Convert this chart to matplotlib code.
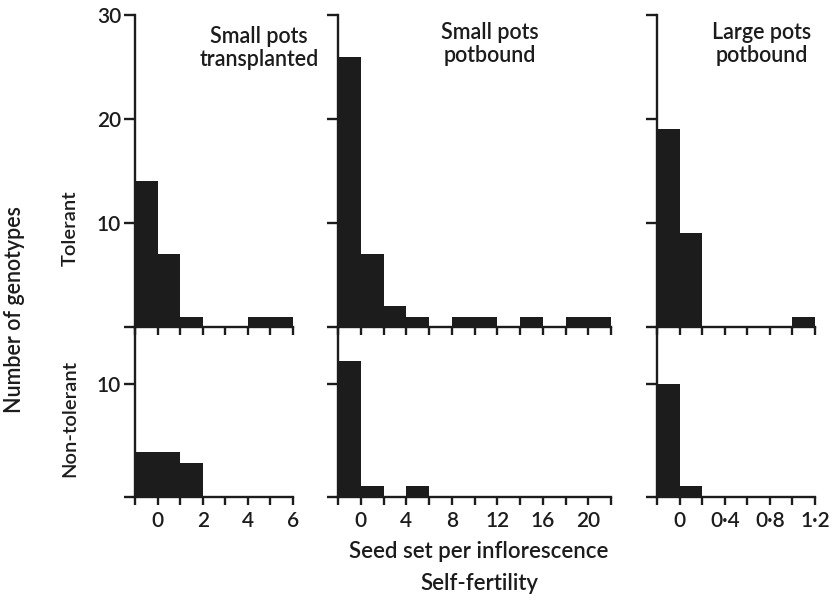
import matplotlib
matplotlib.use("Agg")
import matplotlib.pyplot as plt
from matplotlib.ticker import MultipleLocator, FuncFormatter, FixedLocator

plt.rcParams['font.family'] = ['Lato', 'DejaVu Sans']
plt.rcParams['font.weight'] = 'semibold'

# ---- data (counts of genotypes per seed-set class) ----
# Small pots transplanted: classes of width 1 starting at -1
st_edges = [-1, 0, 1, 2, 3, 4, 5]
st_tolerant = [14, 7, 1, 0, 0, 1, 1]
st_nontolerant = [4, 4, 3, 0, 0, 0, 0]

# Small pots potbound: classes of width 2 starting at -2
sp_edges = [-2, 0, 2, 4, 6, 8, 10, 12, 14, 16, 18, 20]
sp_tolerant = [26, 7, 2, 1, 0, 1, 1, 0, 1, 0, 1, 1]
sp_nontolerant = [12, 1, 0, 1, 0, 0, 0, 0, 0, 0, 0, 0]

# Large pots potbound: classes of width 0.2 starting at -0.2
lp_edges = [-0.2, 0.0, 0.2, 0.4, 0.6, 0.8, 1.0]
lp_tolerant = [19, 9, 0, 0, 0, 0, 1]
lp_nontolerant = [10, 1, 0, 0, 0, 0, 0]

titles = ["Small pots\ntransplanted", "Small pots\npotbound", "Large pots\npotbound"]

W, H = 834, 601
fig = plt.figure(figsize=(W / 100, H / 100), dpi=100)

def px_axes(x0, x1, ytop, ybot):
    return fig.add_axes([x0 / W, 1 - ybot / H, (x1 - x0) / W, (ybot - ytop) / H])

INK = '#1c1c1c'
LW = 1.7

def style(ax, xlim, ylim, ymajor, xmajor, xminor, show_xlabels, show_ylabels, fmt):
    ax.set_xlim(*xlim)
    ax.set_ylim(*ylim)
    for s in ['top', 'right']:
        ax.spines[s].set_visible(False)
    for s in ['left', 'bottom']:
        ax.spines[s].set_linewidth(LW)
        ax.spines[s].set_color(INK)
    ax.yaxis.set_major_locator(FixedLocator(ymajor))
    ax.xaxis.set_major_locator(MultipleLocator(xmajor))
    ax.xaxis.set_minor_locator(MultipleLocator(xminor))
    ax.tick_params(axis='both', which='both', direction='out', length=8,
                   width=LW, color=INK, labelsize=15, pad=2, labelcolor=INK)
    ax.tick_params(axis='x', which='both', length=6, pad=4)
    ax.xaxis.set_major_formatter(FuncFormatter(fmt))
    if not show_xlabels:
        ax.tick_params(axis='x', labelbottom=False)
    if show_ylabels:
        ax.yaxis.set_major_formatter(FuncFormatter(lambda v, p: '' if v == 0 else f"{v:.0f}"))
    else:
        ax.tick_params(axis='y', labelleft=False)
    ax.patch.set_alpha(0)

int_fmt = lambda v, p: f"{v:.0f}"
dot_fmt = lambda v, p: ("0" if abs(v) < 1e-9 else f"{v:.1f}".replace('.', '\u00b7'))

panels = [
    dict(x0=135, x1=293, edges=st_edges, w=1, tol=st_tolerant, non=st_nontolerant,
         xlim=(-1, 6), xmajor=2, xminor=1, fmt=int_fmt),
    dict(x0=338, x1=611, edges=sp_edges, w=2, tol=sp_tolerant, non=sp_nontolerant,
         xlim=(-2, 22), xmajor=4, xminor=2, fmt=int_fmt),
    dict(x0=657, x1=815, edges=lp_edges, w=0.2, tol=lp_tolerant, non=lp_nontolerant,
         xlim=(-0.2, 1.2), xmajor=0.4, xminor=0.2, fmt=dot_fmt),
]

for i, p in enumerate(panels):
    axt = px_axes(p['x0'], p['x1'], 15, 327)
    axb = px_axes(p['x0'], p['x1'], 327, 497)
    axt.bar(p['edges'], p['tol'], width=p['w'], align='edge', color=INK, linewidth=0)
    axb.bar(p['edges'], p['non'], width=p['w'], align='edge', color=INK, linewidth=0)
    style(axt, p['xlim'], (0, 30), [0, 10, 20, 30], p['xmajor'], p['xminor'],
          False, i == 0, p['fmt'])
    style(axb, p['xlim'], (0, 15), [0, 10], p['xmajor'], p['xminor'],
          True, i == 0, p['fmt'])

# panel titles
title_pos = [(259, 48), (490, 44), (762, 44)]
for t, (x, y) in zip(titles, title_pos):
    fig.text(x / W, 1 - y / H, t, ha='center', va='center', fontsize=15.5,
             color=INK, linespacing=1.12)

# axis labels
fig.text(15 / W, 1 - 310 / H, "Number of genotypes", rotation=90, ha='center',
         va='center', fontsize=15.5, color=INK)
fig.text(70 / W, 1 - 228 / H, "Tolerant", rotation=90, ha='center',
         va='center', fontsize=14.5, color=INK)
fig.text(70 / W, 1 - 418 / H, "Non-tolerant", rotation=90, ha='center',
         va='center', fontsize=14.5, color=INK)
fig.text(479 / W, 1 - 551 / H, "Seed set per inflorescence", ha='center',
         va='center', fontsize=16, color=INK)
fig.text(479 / W, 1 - 584 / H, "Self-fertility", ha='center',
         va='center', fontsize=16, color=INK)

fig.savefig("out.png", dpi=100)
